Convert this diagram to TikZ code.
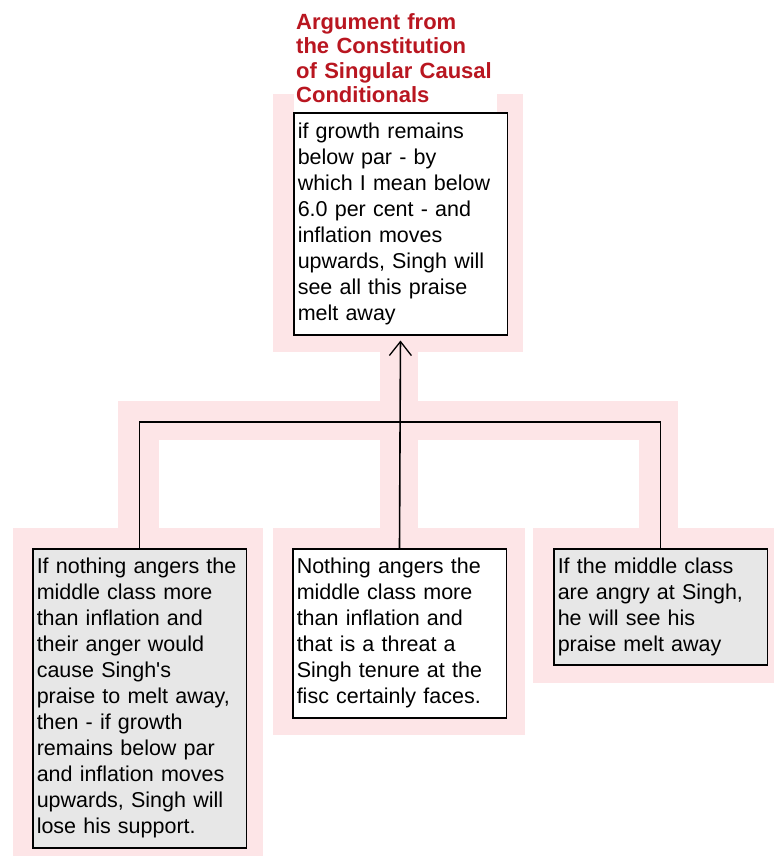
\documentclass[tikz,border=0pt]{standalone}
\usepackage{fontspec}
\setmainfont{Liberation Sans}
\usetikzlibrary{arrows.meta}
\definecolor{pinkbg}{RGB}{253,229,231}
\definecolor{boxgray}{RGB}{231,231,231}
\definecolor{titlered}{RGB}{185,22,32}
\tikzset{
  textbox/.style={draw=black, line width=1.5pt, anchor=north west, inner xsep=4pt, inner ysep=0pt,
    text width=205.5pt, align=left, font=\fontsize{21.5}{26}\selectfont},
  whitebox/.style={textbox, fill=white},
  graybox/.style={textbox, fill=boxgray},
  titlelabel/.style={anchor=south west, fill=white, inner xsep=2pt, inner ysep=9pt, text width=199pt,
    align=left, text=titlered, font=\fontsize{22}{24.3}\selectfont\bfseries},
  connector/.style={draw=black, line width=1.6pt},
  arrowline/.style={connector, -{Straight Barb[length=14pt,width=22pt,line width=1.3pt]}, shorten >=5pt}
}
\begin{document}
\begin{tikzpicture}[x=1pt,y=1pt]
\useasboundingbox (0,0) rectangle (774,-860);
% pink background
\fill[pinkbg] (273,-94) rectangle (523,-352);
\fill[pinkbg] (380,-352) rectangle (418,-401);
\fill[pinkbg] (118,-401) rectangle (678,-440);
\fill[pinkbg] (118,-440) rectangle (159,-528);
\fill[pinkbg] (380,-440) rectangle (418,-528);
\fill[pinkbg] (639,-440) rectangle (678,-528);
\fill[pinkbg] (13,-528) rectangle (263,-856);
\fill[pinkbg] (273,-528) rectangle (525,-735);
\fill[pinkbg] (533,-528) rectangle (774,-683);
% title
\node[titlelabel] (title) at (294,-112) {Argument from\\the Constitution\\of Singular Causal\\Conditionals};
% boxes
\node[whitebox, minimum height=222pt] (top) at (293,-112)
  {if growth remains\\below par - by\\which I mean below\\6.0 per cent - and\\inflation moves\\upwards, Singh will\\see all this praise\\melt away};
\node[graybox, minimum height=299pt] (left) at (32,-548)
  {If nothing angers the\\middle class more\\than inflation and\\their anger would\\cause Singh\textquotesingle s\\praise to melt away,\\then - if growth\\remains below par\\and inflation moves\\upwards, Singh will\\lose his support.};
\node[whitebox, minimum height=169pt] (center) at (292,-548)
  {Nothing angers the\\middle class more\\than inflation and\\that is a threat a\\Singh tenure at the\\fisc certainly faces.};
\node[graybox, minimum height=116pt] (right) at (553,-548)
  {If the middle class\\are angry at Singh,\\he will see his\\praise melt away};
% connectors
\coordinate (j) at (399.5,-422);
\draw[connector] (left.north) |- (j);
\draw[connector] (right.north) |- (j);
\draw[arrowline] (center.north) -- (top.south);
\end{tikzpicture}
\end{document}
